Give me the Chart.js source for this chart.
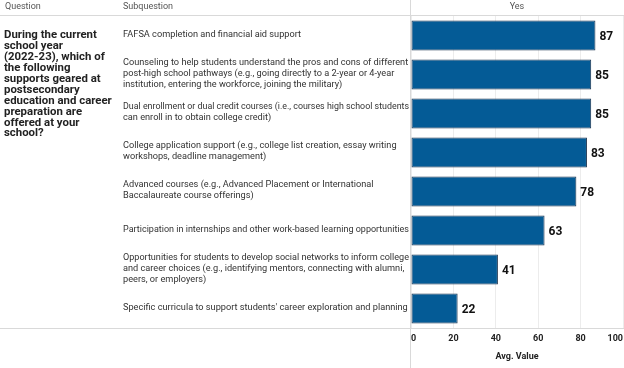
<!DOCTYPE html>
<html>
<head>
<meta charset="utf-8">
<script src="https://cdn.jsdelivr.net/npm/chart.js@4/dist/chart.umd.min.js"></script>
<style>
html,body{margin:0;padding:0;background:#fff;}
#wrap{position:relative;width:624px;height:368px;}
</style>
</head>
<body>
<div id="wrap"><canvas id="c" width="624" height="368"></canvas></div>
<script>
const question = ["During the current","school year","(2022-23), which of","the following","supports geared at","postsecondary","education and career","preparation are","offered at your","school?"];
const subquestions = [
  ["FAFSA completion and financial aid support"],
  ["Counseling to help students understand the pros and cons of different","post-high school pathways (e.g., going directly to a 2-year or 4-year","institution, entering the workforce, joining the military)"],
  ["Dual enrollment or dual credit courses (i.e., courses high school students","can enroll in to obtain college credit)"],
  ["College application support (e.g., college list creation, essay writing","workshops, deadline management)"],
  ["Advanced courses (e.g., Advanced Placement or International","Baccalaureate course offerings)"],
  ["Participation in internships and other work-based learning opportunities"],
  ["Opportunities for students to develop social networks to inform college","and career choices (e.g., identifying mentors, connecting with alumni,","peers, or employers)"],
  ["Specific curricula to support students' career exploration and planning"]
];
const yesValues = [87, 85, 85, 83, 78, 63, 41, 22];
const xTicks = [0, 20, 40, 60, 80, 100];
const headers = {question: "Question", subquestion: "Subquestion", column: "Yes"};
const axisTitle = "Avg. Value";

const FONT = "Roboto, 'Liberation Sans', sans-serif";

const tablePlugin = {
  id: 'tablePlugin',
  beforeDraw(chart) {
    const ctx = chart.ctx;
    const ca = chart.chartArea;
    ctx.save();
    ctx.fillStyle = '#fff';
    ctx.fillRect(0, 0, chart.width, chart.height);
    ctx.strokeStyle = '#d9d9d9';
    ctx.lineWidth = 1;
    ctx.beginPath();
    ctx.moveTo(0, ca.top - 0.5); ctx.lineTo(chart.width, ca.top - 0.5);
    ctx.moveTo(0, ca.bottom + 0.5); ctx.lineTo(chart.width, ca.bottom + 0.5);
    ctx.moveTo(ca.left - 0.5, 0); ctx.lineTo(ca.left - 0.5, chart.height);
    ctx.stroke();
    ctx.restore();
  },
  afterDraw(chart) {
    const ctx = chart.ctx;
    const ca = chart.chartArea;
    const y = chart.scales.y;
    ctx.save();
    ctx.fillStyle = '#555';
    ctx.font = '9px ' + FONT;
    ctx.textBaseline = 'middle';
    ctx.textAlign = 'left';
    ctx.fillText(headers.question, 5, 7);
    ctx.fillText(headers.subquestion, 123, 7);
    ctx.textAlign = 'center';
    ctx.fillText(headers.column, (ca.left + ca.right) / 2, 7);
    ctx.fillStyle = '#222';
    ctx.font = 'bold 11.4px ' + FONT;
    ctx.textAlign = 'left';
    question.forEach((ln, i) => ctx.fillText(ln, 4, 35.5 + i * 10.9));
    ctx.fillStyle = '#333';
    ctx.font = '9.2px ' + FONT;
    const lh = 11.3;
    subquestions.forEach((lines, i) => {
      const cy = y.getPixelForValue(i) - 1;
      const start = cy - (lines.length - 1) * lh / 2;
      lines.forEach((ln, j) => ctx.fillText(ln, 123, start + j * lh, 286));
    });
    const meta = chart.getDatasetMeta(0);
    ctx.fillStyle = '#111';
    ctx.font = 'bold 12px ' + FONT;
    ctx.textAlign = 'left';
    meta.data.forEach((bar, i) => {
      ctx.fillText(String(yesValues[i]), bar.x + 4, bar.y + 1);
    });
    ctx.restore();
  }
};

new Chart(document.getElementById('c'), {
  type: 'bar',
  data: {
    labels: subquestions.map(s => s.join(' ')),
    datasets: [{
      data: yesValues,
      backgroundColor: '#045b96',
      borderColor: '#1d3550',
      borderWidth: 1,
      borderSkipped: false,
      barPercentage: 0.77,
      categoryPercentage: 1
    }]
  },
  options: {
    indexAxis: 'y',
    responsive: false,
    animation: false,
    layout: {padding: {left: 411, right: 1, top: 16, bottom: 0}},
    plugins: {legend: {display: false}, tooltip: {enabled: false}},
    scales: {
      y: {display: false},
      x: {
        min: 0, max: 100,
        afterBuildTicks(s) { s.ticks = xTicks.map(v => ({value: v})); },
        afterFit(s) { s.height = 40; s.paddingLeft = 0; s.paddingRight = 0; },
        grid: {color: '#ececec', drawTicks: false, lineWidth: 1},
        border: {display: false},
        ticks: {
          padding: 5,
          align: 'inner',
          color: '#222',
          font: {family: FONT, size: 9, weight: 'bold'},
          maxRotation: 0
        },
        title: {
          display: true,
          text: axisTitle,
          color: '#222',
          font: {family: FONT, size: 9, weight: 'bold'},
          padding: {top: 4, bottom: 6}
        }
      }
    }
  },
  plugins: [tablePlugin]
});
</script>
</body>
</html>
